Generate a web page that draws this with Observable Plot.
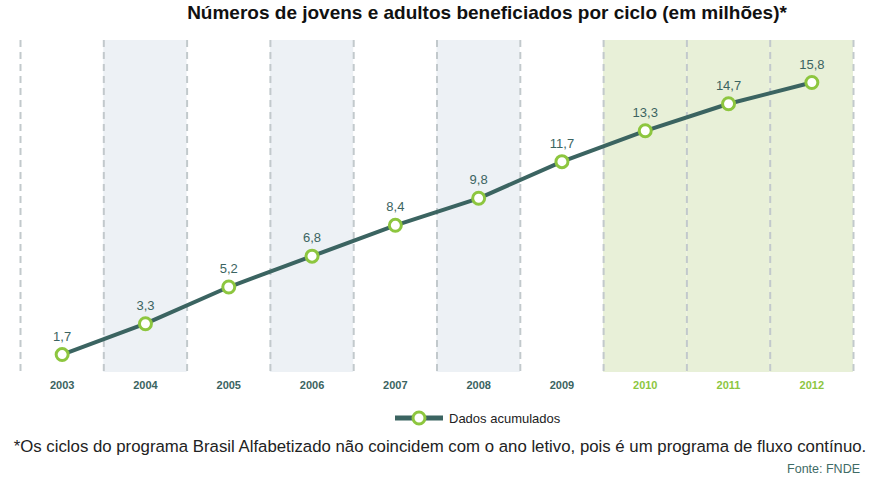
<!DOCTYPE html>
<html><head><meta charset="utf-8">
<script src="https://cdn.jsdelivr.net/npm/d3@7"></script>
<script src="https://cdn.jsdelivr.net/npm/@observablehq/plot@0.6"></script>
<style>
body{margin:0;background:#fff;font-family:"Liberation Sans",Arial,sans-serif;}
#wrap{position:relative;width:871px;height:485px;overflow:hidden;}
#title{position:absolute;top:2px;left:0;width:974px;text-align:center;font-weight:bold;font-size:19px;color:#111;}
#chart{position:absolute;top:0;left:0;}
#legend{position:absolute;top:409px;left:395px;display:flex;align-items:center;font-size:13px;color:#222;}
#caption{position:absolute;top:437px;left:0;width:880px;text-align:center;font-size:16.8px;color:#222;white-space:nowrap;}
#source{position:absolute;top:462px;right:11px;font-size:12.5px;color:#3f6b66;}
</style></head>
<body>
<div id="wrap">
<div id="title">Números de jovens e adultos beneficiados por ciclo (em milhões)*</div>
<div id="chart"></div>
<div id="legend"><svg width="50" height="18"><line x1="0" y1="9" x2="48" y2="9" stroke="#3b6461" stroke-width="5"/><circle cx="24" cy="9" r="6" fill="#fff" stroke="#8dc63f" stroke-width="3"/></svg><span style="margin-left:4px">Dados acumulados</span></div>
<div id="caption">*Os ciclos do programa Brasil Alfabetizado não coincidem com o ano letivo, pois é um programa de fluxo contínuo.</div>
<div id="source">Fonte: FNDE</div>
</div>
<script>
const years = [2003, 2004, 2005, 2006, 2007, 2008, 2009, 2010, 2011, 2012];
const values = [1.7, 3.3, 5.2, 6.8, 8.4, 9.8, 11.7, 13.3, 14.7, 15.8];
const blueBandYears = [2004, 2006, 2008];
const greenBandYears = [2010, 2011, 2012];

const data = years.map((y, i) => ({year: y, value: values[i]}));
const boundaries = years.map(y => y - 0.5).concat([years[years.length - 1] + 0.5]);
const labelColor = y => greenBandYears.includes(y) ? "#8dc63f" : "#3b6461";
const fmt = v => v.toFixed(1).replace(".", ",");

const plot = Plot.plot({
  width: 871,
  height: 400,
  marginTop: 40,
  marginBottom: 28,
  marginLeft: 20,
  marginRight: 18,
  style: {fontFamily: "'Liberation Sans', Arial, sans-serif", background: "transparent"},
  x: {type: "linear", domain: [2002.5, 2012.5], axis: null},
  y: {domain: [0.77, 17.98], axis: null},
  marks: [
    Plot.rect(blueBandYears, {x1: d => d - 0.5, x2: d => d + 0.5, fill: "#edf1f5"}),
    Plot.rect(greenBandYears, {x1: d => d - 0.5, x2: d => d + 0.5, fill: "#e8f0d8"}),
    Plot.ruleX(boundaries, {stroke: "#c2c9cc", strokeWidth: 2, strokeDasharray: "7,5"}),
    Plot.line(data, {x: "year", y: "value", stroke: "#3b6461", strokeWidth: 4}),
    Plot.dot(data, {x: "year", y: "value", r: 6, fill: "#fff", stroke: "#8dc63f", strokeWidth: 3}),
    Plot.text(data, {x: "year", y: "value", text: d => fmt(d.value), dy: -18, fill: "#3b6461", fontSize: 13}),
    Plot.text(years, {x: d => d, frameAnchor: "bottom", dy: 16, text: d => String(d), fill: d => labelColor(d), fontSize: 11, fontWeight: "bold"})
  ]
});
document.getElementById("chart").appendChild(plot);
</script>
</body></html>
